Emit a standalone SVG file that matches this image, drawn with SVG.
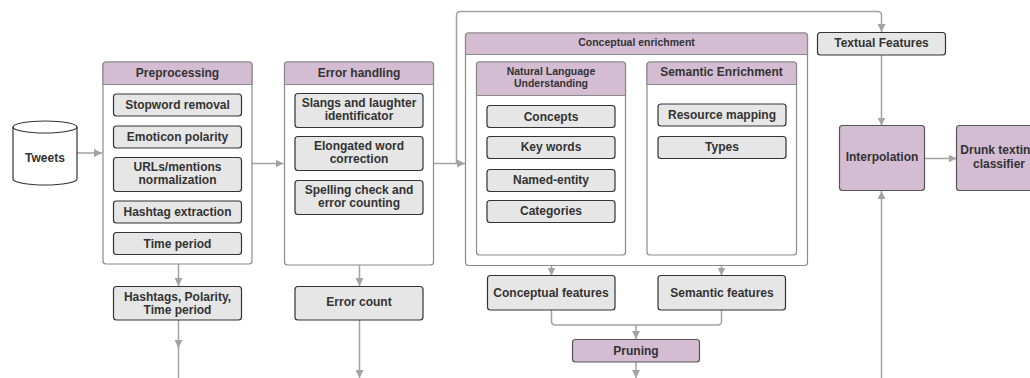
<svg xmlns="http://www.w3.org/2000/svg" width="1030" height="378" viewBox="0 0 1030 378">
  <style>
    .t { font-family: "Liberation Sans", Arial, sans-serif; font-weight: bold; font-size: 12px; fill: #333; text-anchor: middle; }
    .ts { font-size: 10.5px; }
    .box { fill: #e6e6e6; stroke: #333; stroke-width: 1.2; }
    .cont { fill: #fff; stroke: #8a8a8a; stroke-width: 1.2; }
    .head { fill: #d4bdd3; stroke: #8a8a8a; stroke-width: 1.2; }
    .pbox { fill: #d4bdd3; stroke: #555; stroke-width: 1.2; }
    .c { fill: none; stroke: #a3a3a3; stroke-width: 1.5; }
  </style>
  <defs>
    <marker id="ah" viewBox="0 0 10 10" refX="10" refY="5" markerWidth="8" markerHeight="8" markerUnits="userSpaceOnUse" orient="auto">
      <path d="M0,0 L10,5 L0,10 z" fill="#a3a3a3"/>
    </marker>
  </defs>
  <rect width="1030" height="378" fill="#fff"/>

  <!-- connectors -->
  <g id="connectors">
    <path class="c" d="M77,153 H102" marker-end="url(#ah)"/>
    <path class="c" d="M252,163.5 H283.5" marker-end="url(#ah)"/>
    <path class="c" d="M433.5,163.5 H465" marker-end="url(#ah)"/>
    <path class="c" d="M456.5,163.5 V15.5 Q456.5,11.5 460.5,11.5 H877.5 Q881.5,11.5 881.5,15.5 V32" marker-end="url(#ah)"/>
    <path class="c" d="M178.5,264 V286" marker-end="url(#ah)"/>
    <path class="c" d="M178.5,320 V348" marker-end="url(#ah)"/>
    <path class="c" d="M178.5,346 V378"/>
    <path class="c" d="M359.5,265 V286" marker-end="url(#ah)"/>
    <path class="c" d="M359.5,320 V378" marker-end="url(#ah)"/>
    <path class="c" d="M626,158.5 H647" marker-end="url(#ah)"/>
    <path class="c" d="M551.5,255 V275.5" marker-end="url(#ah)"/>
    <path class="c" d="M721.5,255 V275.5" marker-end="url(#ah)"/>
    <path class="c" d="M551.5,310 V321 Q551.5,325 555.5,325 H717.5 Q721.5,325 721.5,321 V310"/>
    <path class="c" d="M636,325 V339" marker-end="url(#ah)"/>
    <path class="c" d="M636,362 V378" marker-end="url(#ah)"/>
    <path class="c" d="M881.5,55 V125.5" marker-end="url(#ah)"/>
    <path class="c" d="M925,158.5 H956.5" marker-end="url(#ah)"/>
    <path class="c" d="M881.5,378 V191" marker-end="url(#ah)"/>
  </g>

  <!-- Tweets data store -->
  <g id="tweets">
    <path d="M13,127 A32,6 0 0 1 77,127 V179 A32,6 0 0 1 13,179 Z" fill="#fff" stroke="#333" stroke-width="1.2"/>
    <path d="M13,127 A32,6 0 0 0 77,127" fill="none" stroke="#333" stroke-width="1.2"/>
    <text class="t" x="45" y="162">Tweets</text>
  </g>

  <!-- Preprocessing -->
  <g id="preprocessing">
    <rect class="cont" x="103" y="62" width="149" height="202" rx="3"/>
    <path class="head" d="M103,84.5 V65 Q103,62 106,62 H249 Q252,62 252,65 V84.5 Z"/>
    <text class="t" x="177.5" y="76.5">Preprocessing</text>
  </g>
  <g id="stopword">
    <rect class="box" x="113.5" y="94" width="128" height="22" rx="3"/>
    <text class="t" x="177.5" y="109">Stopword removal</text>
  </g>
  <g id="emoticon">
    <rect class="box" x="113.5" y="126" width="128" height="22" rx="3"/>
    <text class="t" x="177.5" y="141">Emoticon polarity</text>
  </g>
  <g id="urls">
    <rect class="box" x="113.5" y="157.5" width="128" height="34" rx="3"/>
    <text class="t" x="177.5" y="170.5">URLs/mentions</text>
    <text class="t" x="177.5" y="184">normalization</text>
  </g>
  <g id="hashtag">
    <rect class="box" x="113.5" y="201" width="128" height="22" rx="3"/>
    <text class="t" x="177.5" y="216">Hashtag extraction</text>
  </g>
  <g id="timeperiod">
    <rect class="box" x="113.5" y="232.5" width="128" height="22" rx="3"/>
    <text class="t" x="177.5" y="247.5">Time period</text>
  </g>
  <g id="hashtags-out">
    <rect class="box" x="113.5" y="286.5" width="128" height="33.5" rx="3"/>
    <text class="t" x="177.5" y="300.5">Hashtags, Polarity,</text>
    <text class="t" x="177.5" y="314">Time period</text>
  </g>

  <!-- Error handling -->
  <g id="error-handling">
    <rect class="cont" x="284.5" y="62" width="149" height="203" rx="3"/>
    <path class="head" d="M284.5,84.5 V65 Q284.5,62 287.5,62 H430.5 Q433.5,62 433.5,65 V84.5 Z"/>
    <text class="t" x="359" y="76.5">Error handling</text>
  </g>
  <g id="slangs">
    <rect class="box" x="295" y="93.5" width="128" height="34" rx="3"/>
    <text class="t" x="359" y="106.5">Slangs and laughter</text>
    <text class="t" x="359" y="120">identificator</text>
  </g>
  <g id="elongated">
    <rect class="box" x="295" y="136.5" width="128" height="34" rx="3"/>
    <text class="t" x="359" y="149.5">Elongated word</text>
    <text class="t" x="359" y="163">correction</text>
  </g>
  <g id="spelling">
    <rect class="box" x="295" y="180.5" width="128" height="34" rx="3"/>
    <text class="t" x="359" y="193.5">Spelling check and</text>
    <text class="t" x="359" y="207">error counting</text>
  </g>
  <g id="error-count">
    <rect class="box" x="295" y="286.5" width="128" height="33.5" rx="3"/>
    <text class="t" x="359" y="305.5">Error count</text>
  </g>

  <!-- Conceptual enrichment -->
  <g id="conceptual-enrichment">
    <rect class="cont" x="465.5" y="33" width="342" height="232.5" rx="3"/>
    <path class="head" d="M465.5,54.5 V36 Q465.5,33 468.5,33 H804.5 Q807.5,33 807.5,36 V54.5 Z"/>
    <text class="t ts" x="636.5" y="46">Conceptual enrichment</text>
  </g>
  <g id="nlu">
    <rect class="cont" x="476.5" y="62" width="149" height="193" rx="3"/>
    <path class="head" d="M476.5,95.5 V65 Q476.5,62 479.5,62 H622.5 Q625.5,62 625.5,65 V95.5 Z"/>
    <text class="t ts" x="551" y="75">Natural Language</text>
    <text class="t ts" x="551" y="87">Understanding</text>
  </g>
  <g id="concepts">
    <rect class="box" x="487" y="105.5" width="128" height="22" rx="3"/>
    <text class="t" x="551" y="120.5">Concepts</text>
  </g>
  <g id="keywords">
    <rect class="box" x="487" y="136.5" width="128" height="22" rx="3"/>
    <text class="t" x="551" y="151">Key words</text>
  </g>
  <g id="named-entity">
    <rect class="box" x="487" y="169.5" width="128" height="22" rx="3"/>
    <text class="t" x="551" y="184">Named-entity</text>
  </g>
  <g id="categories">
    <rect class="box" x="487" y="200.5" width="128" height="22" rx="3"/>
    <text class="t" x="551" y="215">Categories</text>
  </g>
  <g id="semantic-enrichment">
    <rect class="cont" x="647" y="62" width="149.5" height="193" rx="3"/>
    <path class="head" d="M647,84.5 V65 Q647,62 650,62 H793.5 Q796.5,62 796.5,65 V84.5 Z"/>
    <text class="t" x="721.5" y="75.5">Semantic Enrichment</text>
  </g>
  <g id="resource-mapping">
    <rect class="box" x="658" y="104" width="128" height="22" rx="3"/>
    <text class="t" x="722" y="118.5">Resource mapping</text>
  </g>
  <g id="types">
    <rect class="box" x="658" y="136.5" width="128" height="22" rx="3"/>
    <text class="t" x="722" y="151">Types</text>
  </g>
  <g id="conceptual-features">
    <rect class="box" x="487.5" y="275.5" width="127.5" height="34.5" rx="3"/>
    <text class="t" x="551" y="296.5">Conceptual features</text>
  </g>
  <g id="semantic-features">
    <rect class="box" x="658" y="275.5" width="127.5" height="34.5" rx="3"/>
    <text class="t" x="722" y="296.5">Semantic features</text>
  </g>
  <g id="pruning">
    <rect class="pbox" x="572.5" y="339.5" width="127" height="22.5" rx="3"/>
    <text class="t" x="636" y="354.5">Pruning</text>
  </g>

  <!-- Right-hand side -->
  <g id="textual-features">
    <rect class="box" x="817.5" y="32.5" width="128" height="22.5" rx="3"/>
    <text class="t" x="881.5" y="46.5">Textual Features</text>
  </g>
  <g id="interpolation">
    <rect class="pbox" x="839.5" y="125.5" width="85" height="65" rx="3"/>
    <text class="t" x="882" y="161">Interpolation</text>
  </g>
  <g id="classifier">
    <rect class="pbox" x="956.5" y="125.5" width="85" height="65" rx="3"/>
    <text class="t" x="999" y="154">Drunk texting</text>
    <text class="t" x="999" y="168">classifier</text>
  </g>
</svg>
